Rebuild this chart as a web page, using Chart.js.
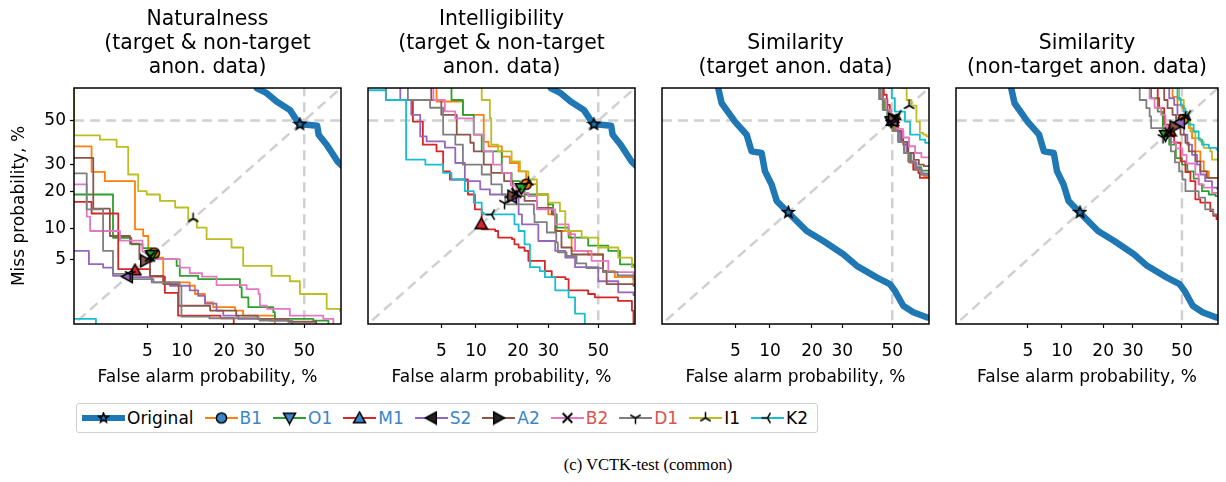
<!DOCTYPE html>
<html>
<head>
<meta charset="utf-8">
<script src="https://cdn.jsdelivr.net/npm/chart.js@4.4.1/dist/chart.umd.min.js"></script>
<style>
  body { margin: 0; background: #fff; }
  #wrap { position: relative; width: 1226px; height: 482px; overflow: hidden; font-family: 'DejaVu Sans', sans-serif; }
  canvas.panel { position: absolute; top: 0; }
  #legend { position: absolute; left: 76px; top: 403px; width: 742px; height: 30px; box-sizing: border-box;
    border: 1px solid #d0d0d0; border-radius: 3px; display: flex; align-items: center; padding-left: 5px; }
  .item { display: flex; align-items: center; margin-right: 11px; font-size: 17px; }
  .item span { margin-left: 2px; }
  #caption { position: absolute; left: 0; width: 1296px; top: 455px; text-align: center;
    font-family: 'Liberation Serif', serif; font-size: 16.5px; color: #000; }
</style>
</head>
<body>
<div id="wrap">
  <canvas class="panel" id="p1"></canvas>
  <canvas class="panel" id="p2"></canvas>
  <canvas class="panel" id="p3"></canvas>
  <canvas class="panel" id="p4"></canvas>
  <div id="legend"></div>
  <div id="caption">(c) VCTK-test (common)</div>
</div>
<script>
// ---- data: DET curves as [false alarm %, miss %], step points ----
const systems = ['Original', 'B1', 'O1', 'M1', 'S2', 'A2', 'B2', 'D1', 'I1', 'K2'];
const tickValues = [5, 10, 20, 30, 50];
const axisMin = 0.79;
const axisMax = 65;
const refValue = 50;

const origAll = [[29,75],[30.9,65],[34.7,62.7],[38.6,58.9],[44.0,55.0],[47.9,48.3],[55.4,47.5],[56,43.3],[59.3,38.7],[63.6,31.4],[68,27]];
const origTarget = [[3.2,75],[3.41,64.9],[3.69,58.1],[4.96,49.5],[6.35,43.3],[7.02,35.7],[8.55,35.0],[9.1,27.4],[10.3,22.4],[11.3,17.0],[13.8,13.7],[18.5,9.5],[23.5,7.65],[30.4,5.64],[35.5,4.24],[43.5,3.14],[49.0,2.62],[51.1,2.17],[54.6,1.40],[58.7,1.15],[64.1,0.98],[70,0.9]];

// Naturalness
const natCurves = [
  origAll,
  [[0.5,37.9],[1.29,27.1],[1.83,23.6],[3.80,9.85],[4.57,8.54],[5.1,6.34],[5.6,5.2],[6.97,2.74],[11.5,2.5],[12.6,1.98],[14.9,1.55],[17.0,1.34],[23.4,1.21],[26.1,1.03],[37.9,0.6]],
  [[0.5,19.0],[2.25,8.2],[3.5,7.1],[4.5,6.5],[5.5,5.3],[6.3,5.0],[9.05,4.24],[9.6,3.27],[13.3,3.0],[25.0,2.39],[25.6,1.80],[27.9,1.34],[37.3,1.15],[37.9,0.93],[53.8,0.88],[60,0.6]],
  [[0.5,16.7],[1.29,13.5],[2.56,3.9],[5.3,3.2],[7.2,2.05],[9.3,1.03],[19,0.95],[23,0.6]],
  [[0.5,6.1],[1.2,4.42],[1.75,4.05],[2.25,3.27],[3.0,3.16],[5.5,2.74],[7.96,2.5],[11.5,2.2],[13.3,1.88],[14.9,1.49],[17.9,1.21],[19.8,1.03],[24.5,0.93],[36,0.88],[45,0.6]],
  [[0.5,32.9],[1.35,14.8],[2.08,8.54],[3.39,7.2],[4.2,5.0],[5.3,3.27],[6.97,2.62],[9.4,1.4],[16.2,1.21],[23.8,1.03],[31.3,0.93],[43.3,0.85],[55,0.6]],
  [[0.5,22.4],[1.13,12.7],[1.24,9.5],[2.67,7.7],[4.5,6.0],[6.0,5.0],[9.6,4.05],[11.5,3.5],[14.2,3.2],[17.9,2.55],[27.3,2.28],[31.6,1.98],[32.1,1.4],[34.8,1.27],[44,1.03],[57.9,0.93],[62,0.6]],
  [[0.5,26.5],[1.13,14.6],[1.75,6.1],[2.25,3.45],[3.5,3.0],[5.7,2.74],[9.6,2.5],[9.9,1.0],[16,0.95],[32,0.88],[45,0.6]],
  [[0.5,70],[0.79,43],[1.61,41],[2.46,37.7],[3.25,26.1],[4.09,20.1],[4.93,19.0],[6.52,17.0],[8.8,15.1],[11.2,12.1],[13.0,10.2],[15.3,7.96],[22.3,6.6],[26.1,4.24],[36.6,3.27],[44,2.83],[48.2,1.98],[59.3,1.27],[64.6,1.2],[70,1.2]],
  [[0.5,0.93],[1.4,0.93],[1.45,0.6]]
];
const natEER = [48.2, 5.8, 5.5, 3.8, 3.2, 4.8, 5.3, 3.4, 12.2, null];

// Intelligibility
const intCurves = [
  origAll,
  [[3.5,90],[4.5,58.9],[7.8,52.7],[11.5,40],[12.5,37.9],[15.6,33.4],[17.7,30.7],[20.2,27.3],[22.5,22.5],[26,19.0],[30,13.3],[33.1,9.5],[38.6,8.25],[39.0,6.1],[45.8,5.6],[52,3.7],[56.9,3.16],[64.4,2.62],[70,2.6]],
  [[5,90],[6.2,59.6],[7.8,52.7],[9.6,43.3],[11.1,35.7],[15.6,26.7],[18.2,23.6],[20.6,21],[22.0,19.0],[30,16.0],[31.8,13.3],[33.1,10.2],[37.8,8.25],[45.8,6.9],[54.2,6.1],[59,4.4],[64.4,4.1],[70,4.0]],
  [[0.5,90],[1.3,59.6],[2.6,49.5],[3.3,38.7],[4.5,35.7],[5.2,27.3],[6.0,24.2],[8.6,19.0],[9.8,14.6],[11.1,9.85],[14.0,9.5],[14.7,8.25],[18.3,7.96],[19.0,7.1],[20.2,6.6],[22.0,6.1],[23.2,4.8],[28.8,3.7],[31.3,3.16],[36.5,3.0],[37.8,2.2],[45.8,1.98],[48.6,1.8],[58.2,1.62],[63.8,1.21],[64.4,0.6]],
  [[1.5,90],[1.9,59.6],[2.5,52.7],[3.1,42.5],[3.6,40.2],[5.4,37.4],[6.7,30.7],[8.1,23.6],[10.8,20.7],[12.8,19.0],[18.2,18],[20.2,13.3],[21.2,10.9],[26.5,7.65],[32.6,6.1],[36.5,5.2],[40.4,4.1],[50,2.83],[58.3,2.08],[64.4,1.92],[70,1.9]],
  [[3,90],[4.0,59.6],[5.0,52.7],[6.9,43.3],[9.0,39.6],[9.6,35.7],[11.5,30],[13.1,26.7],[16.2,23.6],[18.5,18.5],[22,17],[26,15],[31.3,13.3],[32.6,9.5],[35,6.6],[39,5.6],[52,3.7],[53.5,2.62],[64.4,2.5],[70,2.5]],
  [[3.5,90],[4.2,59.6],[5.4,54.3],[6.7,51],[9.6,43.3],[11.5,35.7],[13.5,30],[15.6,26.7],[18,22],[19.5,19.5],[23.2,18.5],[26,14.6],[32.6,10.9],[37.8,8.9],[40.4,6.1],[47.2,4.8],[54.2,3.6],[64.4,3.2],[70,3.2]],
  [[2,90],[2.3,59.6],[3.9,56],[5.2,43.3],[6.7,38.7],[7.8,30],[11.1,26.1],[13.1,22.4],[15.6,19.0],[16.5,16],[25,13.3],[25.2,11.4],[29.5,9.2],[33,7.4],[33.6,5.9],[37,5.4],[41,4.5],[45,4.0],[52,3.6],[58,3.3],[64.4,3.0],[70,3.0]],
  [[7,90],[11.1,59.6],[12.8,51],[13.1,38.7],[14.7,35.7],[18.2,31.4],[20.6,27.3],[23.2,24.2],[26.0,19.0],[30.0,16.5],[34.4,14.1],[36.5,9.5],[43.1,8.25],[50,6.6],[58.3,5.2],[63.8,4.1],[70,4.1]],
  [[0.5,64],[1.3,59.6],[2.2,32.1],[3.5,30],[5.2,26.7],[6.2,24.2],[8.1,20.1],[9.6,16.5],[11.1,13.7],[11.5,13.3],[19.0,10.9],[20.2,9.5],[22.0,7.1],[23.7,4.1],[27.0,3.7],[28.8,3.16],[32.6,2.2],[37.8,1.8],[40.4,1.1],[44.4,0.6]]
];
const intEER = [48.2, 22.5, 21, 11, 18.2, 18.5, 19.5, 16.3, 23.2, 13.2];

// Similarity (target anon. data)
const simTCurves = [
  origTarget,
  [[43,90],[45.5,60],[47,55],[48.5,50],[51,45],[53,40],[55,35],[57,31],[59,28],[61,26.5],[63,25.5],[70,25.5]],
  [[42,90],[45,60],[46.5,55],[48,50],[50.5,45],[52.5,40],[55,35],[57.5,31],[60,29],[62,27.6],[70,27.6]],
  [[45,90],[46.5,62],[47.7,57.3],[49,51.3],[52.5,44.8],[54.6,38.7],[56.7,31.4],[58.7,28],[60.8,26.7],[61.4,24.8],[70,24.2]],
  [[44,90],[46,60],[47.5,55],[49,50],[51.5,45],[53.5,40],[56,35],[58,31],[60,28.5],[62,26.5],[70,26.5]],
  [[44,90],[46,60],[48,55],[49.5,50],[52,45],[54,40],[56.5,35],[59,32],[61,30],[63,29.4],[70,29.4]],
  [[43,90],[45.5,60],[47.5,55],[49.5,50],[52,46],[54.5,42],[57,38],[59.5,35],[62,33.1],[70,33.1]],
  [[42,90],[44.5,60],[46,55],[48,50],[50,45],[52.5,40],[55,35],[57,31],[59.5,28],[62,26],[70,26]],
  [[52,90],[53.9,65],[56,59.6],[58,57],[60,49.5],[61.4,44.2],[62.8,43.3],[64,42.5],[70,42.5]],
  [[47,90],[48.3,65],[49.8,60.4],[51.1,54.2],[55.3,49.5],[57.4,43.3],[61.4,41],[63.5,39.6],[70,39.6]]
];
const simTEER = [13.8, 50, 49.5, 50, 50, 50.5, 51, 49.5, 57, 52.5];

// Similarity (non-target anon. data)
const simNCurves = [
  origTarget,
  [[43,90],[44.6,65],[46,61],[48.1,57.3],[50.2,55.8],[51.5,50],[52.9,46.4],[54.3,41.7],[55.7,35.7],[57.8,31.4],[59.2,27.3],[61.3,24.8],[70,24.6]],
  [[35,90],[36,65],[37.1,60.4],[39.8,54.2],[41.9,44.8],[44.6,38.7],[47.4,32.8],[50,30],[52.3,27.3],[55,24.5],[57.1,22.4],[58.5,20.1],[61.3,19.0],[64,18.5],[70,18.5]],
  [[37,90],[37.8,65],[39.8,60.4],[40.4,55.8],[42.5,48],[44.5,44],[46.7,39.6],[49.4,31.4],[51.5,27],[53.6,23.6],[55.7,17.5],[57.8,16.5],[61.9,14.1],[63.1,12.9],[64.4,12.1],[70,12.1]],
  [[42,90],[43.2,65],[44.6,60.4],[46.7,57.3],[48.1,52.7],[49.4,48],[50.8,43.3],[52.3,38.7],[54.3,34.2],[56.4,30],[57.8,26.1],[59.8,23.6],[62.6,21.3],[64.6,20.9],[70,20.9]],
  [[38,90],[39.1,65],[42.5,59.6],[43.9,55.8],[46,52.7],[47.5,48],[49.4,43.3],[51.5,39.6],[52.9,35.7],[55.7,31.4],[57.8,27.3],[60.5,24.8],[70,24.5]],
  [[33,90],[34.5,65],[36.5,60.4],[38.5,56],[41.2,52.7],[43,47],[45.3,40],[47.5,37],[50.2,34.2],[52,30.5],[55.7,26.1],[57.1,22.4],[59.2,21.3],[62.6,19.5],[70,19.5]],
  [[28,90],[29.5,65],[32.6,59.6],[35.2,55.8],[36.5,51.9],[37.1,46.4],[41.9,43.3],[43.9,41.7],[45.3,35.7],[47,31],[48.8,27.3],[50.2,24.2],[51.5,20.1],[57.1,18.0],[59.8,14.6],[63.1,13.3],[70,13.3]],
  [[44,90],[45.3,65],[48.8,59.6],[50.8,54.2],[52.3,49.5],[53.6,44.8],[55.7,41.7],[57.8,40.2],[59.2,37.3],[61.9,35.7],[62.6,32.1],[70,31.4]],
  [[45,90],[46.7,65],[48.1,60.4],[49.5,57],[50.8,54.2],[52.3,52.7],[52.9,48],[55,44.8],[57.1,41],[58.5,38.7],[61.3,37.3],[64.4,36.5],[70,36.5]]
];
const simNEER = [13.8, 50.5, 43, 45, 49, 47, 44.5, 42, 51.5, 52.5];

// ---- styles ----
const lineColors = ['#1f77b4', '#ff7f0e', '#2ca02c', '#d62728', '#9467bd', '#8c564b', '#e377c2', '#7f7f7f', '#bcbd22', '#17becf'];
const markerKinds = ['star', 'o', 'v', '^', '<', '>', 'x', '1', '2', '3'];
const legendTextColors = ['#000', '#3a86c8', '#3a86c8', '#3a86c8', '#3a86c8', '#3a86c8', '#d9534f', '#d9534f', '#000', '#000'];
const legendMarkerFill = ['#1f77b4', '#3a86c8', '#3a86c8', '#3a86c8', '#222', '#222', '#000', '#000', '#000', '#000'];
const FONT = "'DejaVu Sans', sans-serif";

// inverse of the standard normal CDF (Acklam)
function probit(p) {
  const a = [-3.969683028665376e+01, 2.209460984245205e+02, -2.759285104469687e+02, 1.383577518672690e+02, -3.066479806614716e+01, 2.506628277459239e+00];
  const b = [-5.447609879822406e+01, 1.615858368580409e+02, -1.556989798598866e+02, 6.680131188771972e+01, -1.328068155288572e+01];
  const c = [-7.784894002430293e-03, -3.223964580411365e-01, -2.400758277161838e+00, -2.549732539343734e+00, 4.374664141464968e+00, 2.938163982698783e+00];
  const d = [7.784695709041462e-03, 3.224671290700398e-01, 2.445134137142996e+00, 3.754408661907416e+00];
  const pl = 0.02425;
  let q, r;
  if (p < pl) {
    q = Math.sqrt(-2 * Math.log(p));
    return (((((c[0]*q+c[1])*q+c[2])*q+c[3])*q+c[4])*q+c[5]) / ((((d[0]*q+d[1])*q+d[2])*q+d[3])*q+1);
  }
  if (p <= 1 - pl) {
    q = p - 0.5; r = q * q;
    return (((((a[0]*r+a[1])*r+a[2])*r+a[3])*r+a[4])*r+a[5])*q / (((((b[0]*r+b[1])*r+b[2])*r+b[3])*r+b[4])*r+1);
  }
  q = Math.sqrt(-2 * Math.log(1 - p));
  return -(((((c[0]*q+c[1])*q+c[2])*q+c[3])*q+c[4])*q+c[5]) / ((((d[0]*q+d[1])*q+d[2])*q+d[3])*q+1);
}

// normal-deviate (DET) axis, values given in percent
class ProbitScale extends Chart.Scale {
  determineDataLimits() {
    this.min = this.options.min;
    this.max = this.options.max;
  }
  buildTicks() {
    return tickValues.map(v => ({ value: v }));
  }
  configure() {
    super.configure();
    this._pmin = probit(this.min / 100);
    this._pmax = probit(this.max / 100);
  }
  getLabelForValue(v) { return String(v); }
  getPixelForTick(i) { return this.getPixelForValue(this.ticks[i].value); }
  getPixelForValue(v) {
    return this.getPixelForDecimal((probit(v / 100) - this._pmin) / (this._pmax - this._pmin));
  }
  getValueForPixel(px) { return null; }
}
ProbitScale.id = 'probit';
ProbitScale.defaults = {};
Chart.register(ProbitScale);

function markerCanvas(kind, fill, size) {
  const c = document.createElement('canvas');
  c.width = size; c.height = size;
  const g = c.getContext('2d');
  g.translate(size / 2, size / 2);
  g.strokeStyle = '#000';
  g.fillStyle = fill;
  g.lineWidth = 1.5;
  const r = size / 2 - 1.5;
  const poly = pts => {
    g.beginPath();
    pts.forEach((p, i) => i ? g.lineTo(p[0], p[1]) : g.moveTo(p[0], p[1]));
    g.closePath(); g.fill(); g.stroke();
  };
  const arms = pts => {
    g.beginPath();
    pts.forEach(p => { g.moveTo(0, 0); g.lineTo(p[0], p[1]); });
    g.stroke();
  };
  if (kind === 'o') { g.beginPath(); g.arc(0, 0, r * 0.85, 0, Math.PI * 2); g.fill(); g.stroke(); }
  if (kind === '^') poly([[0, -r], [-r, r * 0.8], [r, r * 0.8]]);
  if (kind === 'v') poly([[0, r], [-r, -r * 0.8], [r, -r * 0.8]]);
  if (kind === '<') poly([[-r, 0], [r * 0.8, -r], [r * 0.8, r]]);
  if (kind === '>') poly([[r, 0], [-r * 0.8, -r], [-r * 0.8, r]]);
  if (kind === 'x') {
    g.lineWidth = 2;
    const k = r * 0.8;
    g.beginPath(); g.moveTo(-k, -k); g.lineTo(k, k); g.moveTo(-k, k); g.lineTo(k, -k); g.stroke();
  }
  if (kind === '1') arms([[0, r], [-0.866 * r, -0.5 * r], [0.866 * r, -0.5 * r]]);
  if (kind === '2') arms([[0, -r], [-0.866 * r, 0.5 * r], [0.866 * r, 0.5 * r]]);
  if (kind === '3') arms([[-r, 0], [0.5 * r, -0.866 * r], [0.5 * r, 0.866 * r]]);
  if (kind === 'star') {
    const pts = [];
    for (let i = 0; i < 10; i++) {
      const rr = i % 2 ? r * 0.42 : r;
      const ang = -Math.PI / 2 + i * Math.PI / 5;
      pts.push([rr * Math.cos(ang), rr * Math.sin(ang)]);
    }
    poly(pts);
  }
  return c;
}

const panelMarkers = markerKinds.map((k, i) => markerCanvas(k, i === 0 ? '#1f77b4' : lineColors[i], 15));

const framePlugin = {
  id: 'frame',
  afterDatasetsDraw(chart) {
    const { ctx, chartArea: a } = chart;
    ctx.save();
    ctx.strokeStyle = '#000';
    ctx.lineWidth = 1.5;
    ctx.strokeRect(a.left, a.top, a.right - a.left, a.bottom - a.top);
    ctx.restore();
  }
};

function refLine(points) {
  return {
    data: points.map(p => ({ x: p[0], y: p[1] })),
    borderColor: '#d0d0d0', borderWidth: 2.5, borderDash: [10, 6],
    pointRadius: 0, order: 50
  };
}

function buildDatasets(curves, eers) {
  const ds = [
    refLine([[refValue, 0.3], [refValue, 90]]),
    refLine([[0.3, refValue], [90, refValue]]),
    refLine([[0.3, 0.3], [90, 90]])
  ];
  curves.forEach((c, i) => {
    ds.push({
      data: c.map(p => ({ x: p[0], y: p[1] })),
      borderColor: lineColors[i],
      borderWidth: i === 0 ? 6.5 : 1.8,
      stepped: i === 0 ? false : true,
      borderJoinStyle: 'round',
      pointRadius: 0,
      order: 30 - i
    });
  });
  // EER markers, later systems drawn on top
  eers.forEach((e, i) => {
    if (e === null) return;
    ds.push({
      data: [{ x: e, y: e }],
      showLine: false,
      pointStyle: panelMarkers[i],
      pointRadius: 7,
      order: -i
    });
  });
  return ds;
}

function makePanel(id, left, padL, padR, showY, title, curves, eers) {
  const canvas = document.getElementById(id);
  canvas.width = padL + 267 + padR;
  canvas.height = 400;
  canvas.style.left = left + 'px';
  const lineH = 24;
  return new Chart(canvas, {
    type: 'line',
    data: { datasets: buildDatasets(curves, eers) },
    options: {
      responsive: false,
      animation: false,
      devicePixelRatio: 1,
      events: [],
      layout: { padding: { left: showY ? 0 : padL, right: padR, top: 0, bottom: 0 } },
      plugins: {
        legend: { display: false },
        tooltip: { enabled: false },
        title: {
          display: true,
          text: title,
          fullSize: false,
          color: '#000',
          font: { family: FONT, size: 20.4, weight: 'normal', lineHeight: lineH + 'px' },
          padding: { top: 88 - 8 - lineH * title.length, bottom: 8 }
        }
      },
      scales: {
        x: {
          type: 'probit', min: axisMin, max: axisMax, position: 'bottom',
          border: { display: false },
          grid: { drawOnChartArea: false, tickLength: 4, tickWidth: 1.2, tickColor: '#000' },
          ticks: { color: '#000', font: { family: FONT, size: 17 }, padding: 13, autoSkip: false, maxRotation: 0 },
          title: { display: true, text: 'False alarm probability, %', color: '#000',
                   font: { family: FONT, size: 17 }, padding: { top: 0, bottom: 12 } },
          afterFit: s => { s.height = 76; }
        },
        y: {
          type: 'probit', min: axisMin, max: axisMax, position: 'left',
          display: showY,
          border: { display: false },
          grid: { drawOnChartArea: false, tickLength: 4, tickWidth: 1.2, tickColor: '#000' },
          ticks: { color: '#000', font: { family: FONT, size: 17 }, padding: 4, autoSkip: false },
          title: { display: true, text: 'Miss probability, %', color: '#000',
                   font: { family: FONT, size: 17 }, padding: { top: 9, bottom: 0 } },
          afterFit: s => { if (showY) s.width = 74; }
        }
      }
    },
    plugins: [framePlugin]
  });
}

makePanel('p1', 0, 74, 10, true, ['Naturalness', '(target & non-target', 'anon. data)'], natCurves, natEER);
makePanel('p2', 358, 10, 10, false, ['Intelligibility', '(target & non-target', 'anon. data)'], intCurves, intEER);
makePanel('p3', 652, 10, 10, false, ['Similarity', '(target anon. data)'], simTCurves, simTEER);
makePanel('p4', 946, 10, 3, false, ['Similarity', '(non-target anon. data)'], simNCurves, simNEER);

// legend
const legend = document.getElementById('legend');
systems.forEach((name, i) => {
  const item = document.createElement('div');
  item.className = 'item';
  const w = i === 0 ? 43 : 33;
  const icon = document.createElement('canvas');
  icon.width = w; icon.height = 18;
  const g = icon.getContext('2d');
  g.strokeStyle = lineColors[i];
  g.lineWidth = i === 0 ? 6 : 1.8;
  g.beginPath(); g.moveTo(0, 9); g.lineTo(w, 9); g.stroke();
  g.drawImage(markerCanvas(markerKinds[i], legendMarkerFill[i], i === 0 ? 13 : 15), w / 2 - (i === 0 ? 6.5 : 7.5), 9 - (i === 0 ? 6.5 : 7.5));
  const label = document.createElement('span');
  label.textContent = name;
  label.style.color = legendTextColors[i];
  item.appendChild(icon);
  item.appendChild(label);
  legend.appendChild(item);
});
</script>
</body>
</html>
